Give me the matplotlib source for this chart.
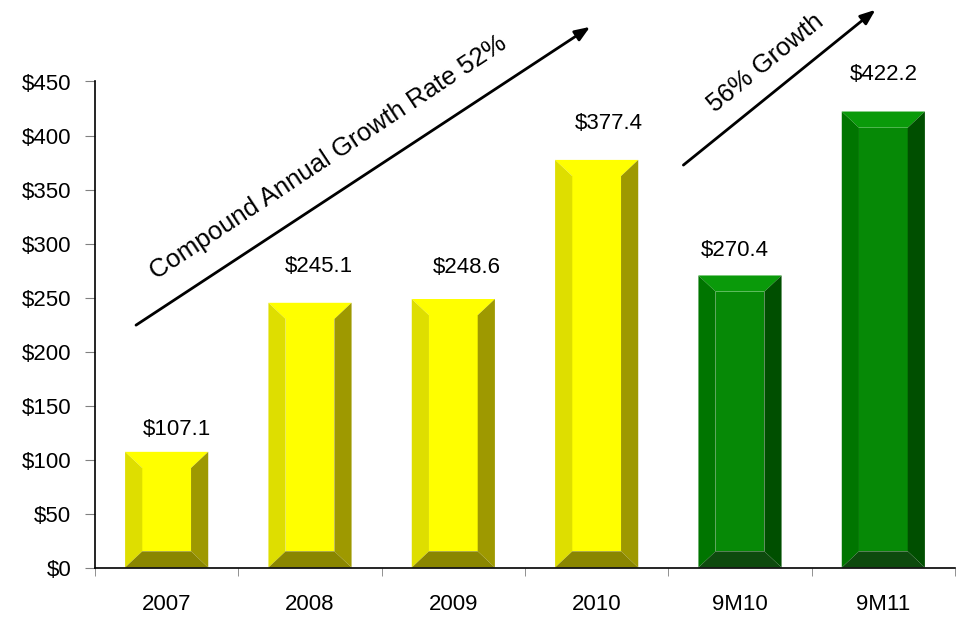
import matplotlib.pyplot as plt
from matplotlib.patches import Polygon

plt.rcParams['font.family'] = ['Liberation Sans', 'DejaVu Sans']

# donnees
categories = ['2007', '2008', '2009', '2010', '9M10', '9M11']
valeurs = [107.1, 245.1, 248.6, 377.4, 270.4, 422.2]
etiquettes = ['$107.1', '$245.1', '$248.6', '$377.4', '$270.4', '$422.2']
groupe = ['jaune', 'jaune', 'jaune', 'jaune', 'vert', 'vert']

# placement des etiquettes par rapport au sommet des barres
decal_x = [0.075, 0.061, 0.094, 0.084, -0.033, 0.003]
decal_y = [21, 34, 29, 34, 23, 34]

# couleurs des faces biseautees : face, haut, gauche, droite, bas
couleurs = {
    'jaune': ['#FFFF00', '#FFFF00', '#DEDE00', '#9E9900', '#8A8600'],
    'vert': ['#068906', '#0A9A0A', '#007500', '#004F00', '#0E4A0E'],
}

fig = plt.figure(figsize=(9.61, 6.18), dpi=100)
ax = fig.add_axes([95/961, 50.5/618, 860/961, 486/618])

largeur = 0.58
bx = 0.12   # largeur du biseau (unites x)
by = 15.0   # hauteur du biseau (unites y)

def barre(ax, x, h, coul):
    face, haut, gauche, droite, bas = coul
    x0, x1 = x - largeur/2, x + largeur/2
    ix0, ix1 = x0 + bx, x1 - bx
    iy0, iy1 = by, h - by
    ax.add_patch(Polygon([(ix0, iy0), (ix1, iy0), (ix1, iy1), (ix0, iy1)], closed=True, fc=face, ec='none'))
    ax.add_patch(Polygon([(x0, h), (x1, h), (ix1, iy1), (ix0, iy1)], closed=True, fc=haut, ec='none'))
    ax.add_patch(Polygon([(x0, 0), (ix0, iy0), (ix0, iy1), (x0, h)], closed=True, fc=gauche, ec='none'))
    ax.add_patch(Polygon([(x1, 0), (x1, h), (ix1, iy1), (ix1, iy0)], closed=True, fc=droite, ec='none'))
    ax.add_patch(Polygon([(x0, 0), (x1, 0), (ix1, iy0), (ix0, iy0)], closed=True, fc=bas, ec='none'))

for i in range(len(categories)):
    barre(ax, i, valeurs[i], couleurs[groupe[i]])
    ax.text(i + decal_x[i], valeurs[i] + decal_y[i], etiquettes[i], ha='center', va='center', fontsize=16)

ax.set_xlim(-0.5, 5.5)
ax.set_ylim(0, 450)
ax.set_yticks(range(0, 451, 50))
ax.set_yticklabels(['$' + str(v) for v in range(0, 451, 50)], fontsize=16)
ax.set_xticks(range(len(categories)))
ax.set_xticklabels(categories, fontsize=16)
ax.set_xticks([i - 0.5 for i in range(len(categories) + 1)], minor=True)
ax.tick_params(axis='x', which='major', length=0, pad=19)
ax.tick_params(axis='x', which='minor', length=6, color='#808080')
ax.tick_params(axis='y', length=7, color='#808080', pad=10)
for s in ['top', 'right']:
    ax.spines[s].set_visible(False)
ax.spines['left'].set_linewidth(1.2)
ax.spines['bottom'].set_linewidth(1.2)

# fleches de croissance
ax.annotate('', xy=(2.97, 502), xytext=(-0.23, 223), annotation_clip=False,
            arrowprops=dict(arrowstyle='-|>,head_length=0.9,head_width=0.35', lw=2, color='black'))
ax.annotate('', xy=(4.96, 518), xytext=(3.59, 371), annotation_clip=False,
            arrowprops=dict(arrowstyle='-|>,head_length=0.9,head_width=0.35', lw=2, color='black'))
ax.text(1.13, 380, 'Compound Annual Growth Rate 52%', rotation=33.5, ha='center', va='center',
        fontsize=18.5, rotation_mode='anchor', clip_on=False)
ax.text(4.18, 467, '56% Growth', rotation=39, ha='center', va='center',
        fontsize=18.5, rotation_mode='anchor', clip_on=False)

plt.savefig('out.png', dpi=100)
